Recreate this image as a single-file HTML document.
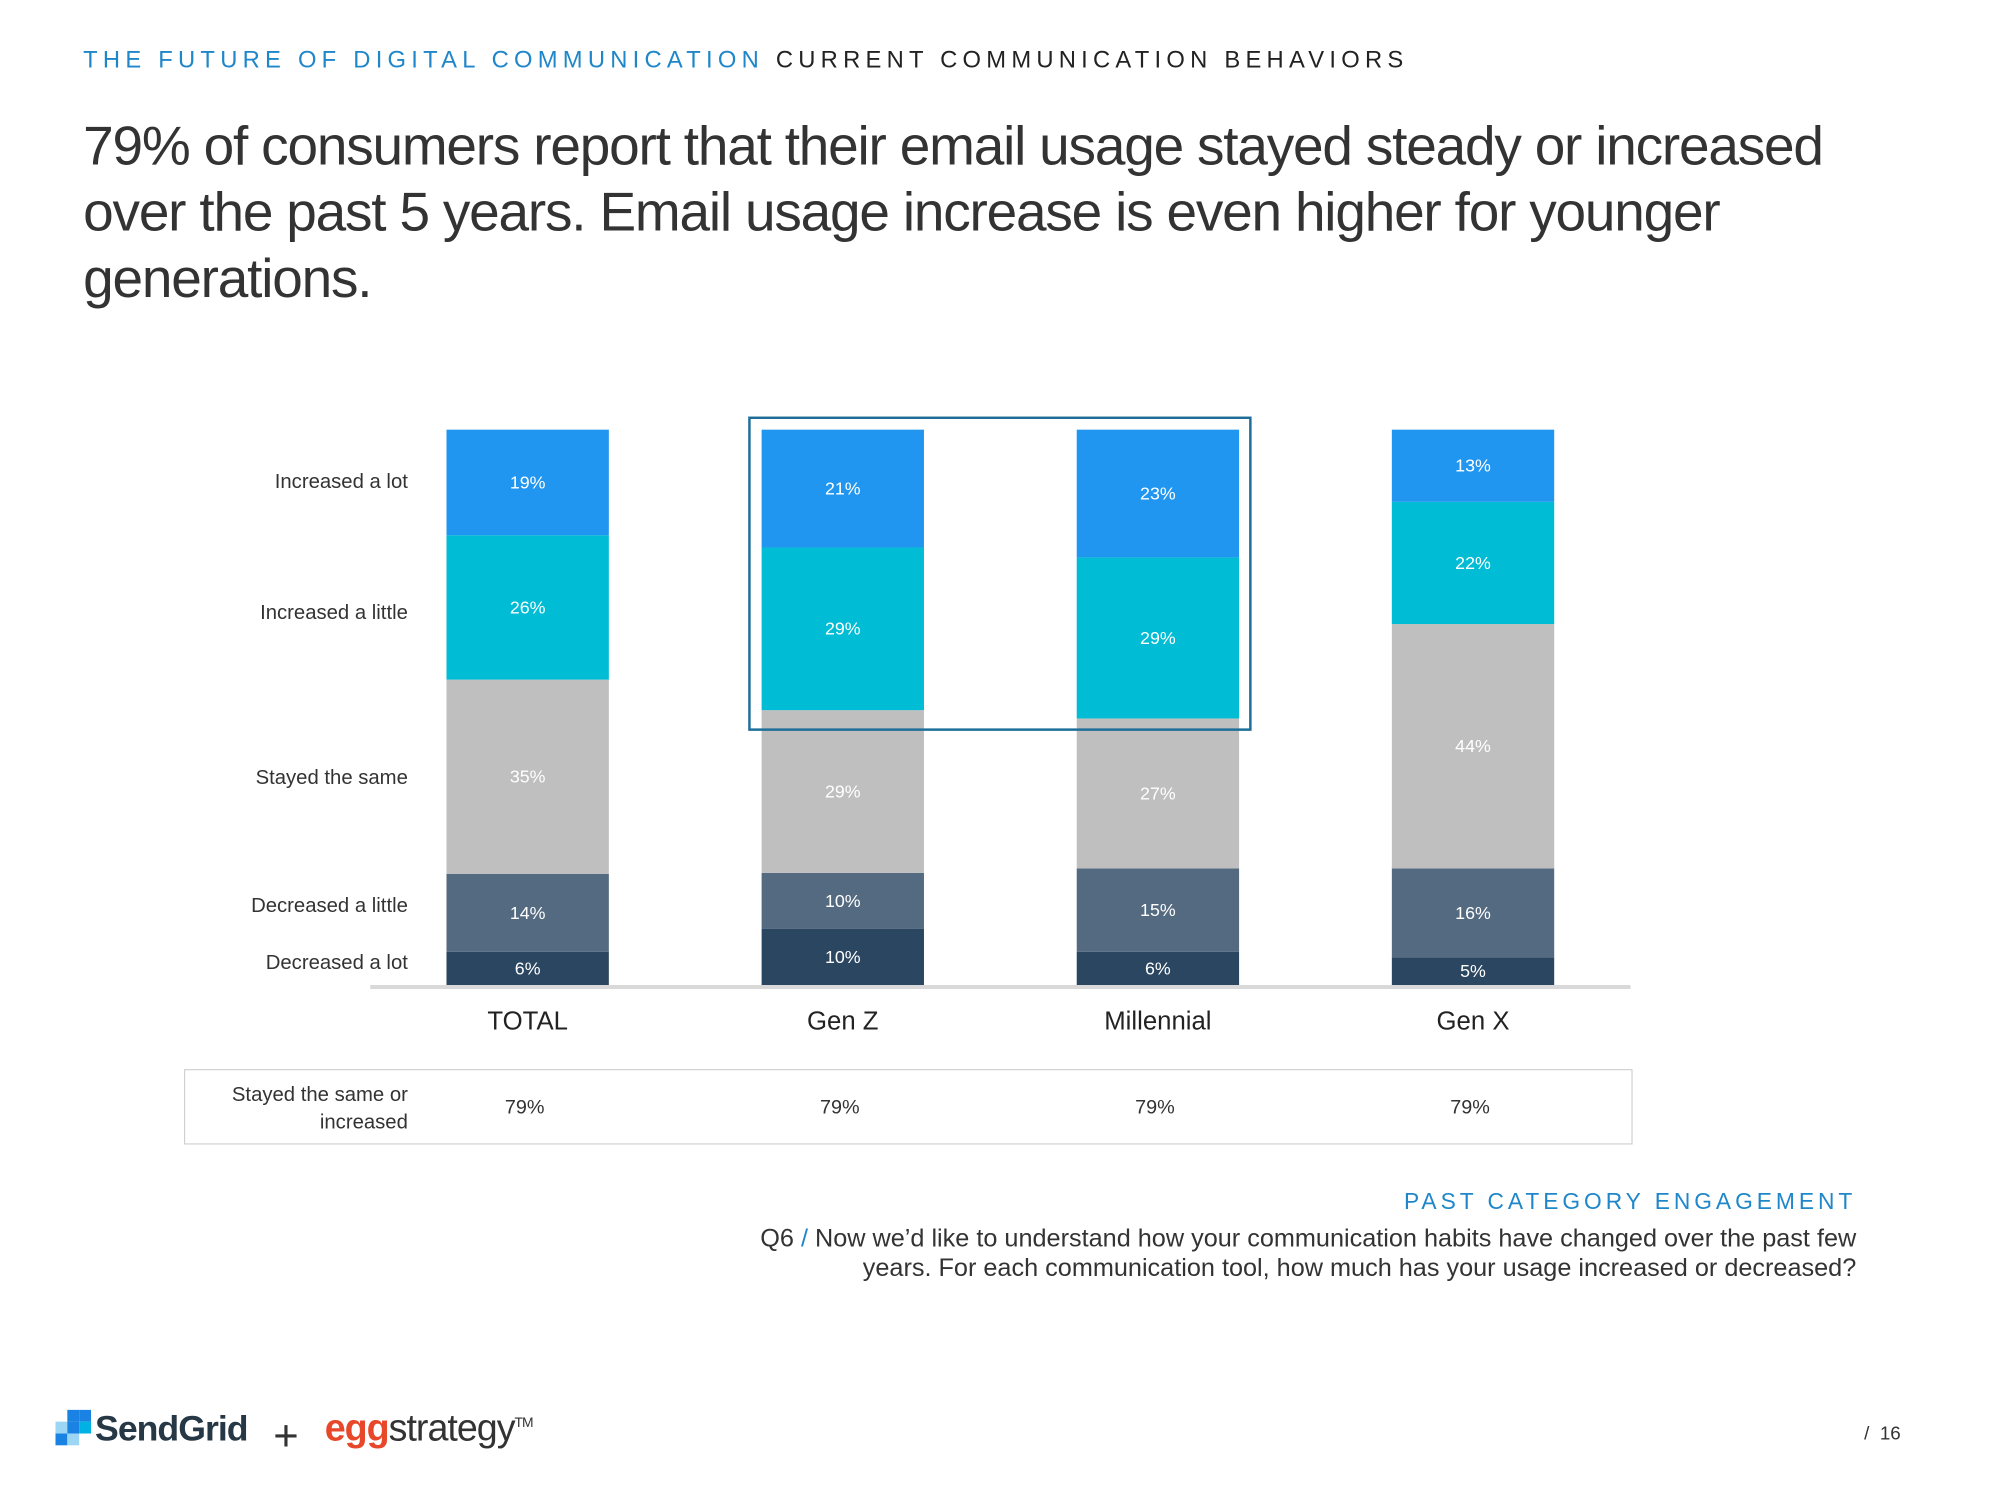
<!DOCTYPE html>
<html><head><meta charset="utf-8">
<style>
body{margin:0;width:2000px;height:1500px;background:#fff;position:relative;overflow:hidden;font-family:"Liberation Sans",sans-serif;}
#wrap{position:absolute;left:0;top:0;width:2000px;height:1500px;transform:scale(0.99);transform-origin:0 0;}
.abs{position:absolute;}
#hdr{left:84px;top:47px;font-size:24px;letter-spacing:5.3px;color:#222;white-space:nowrap;}
#hdr span{color:#1f87c9;}
#title{left:84px;top:114px;font-size:55.5px;line-height:67px;color:#333;letter-spacing:-1.2px;width:1800px;}
.rowlab{right:1588px;font-size:20.5px;color:#333;text-align:right;white-space:nowrap;}
#pce{right:125px;top:1200px;font-size:23px;letter-spacing:4px;color:#1f87c9;}
#q6{right:125px;top:1236px;font-size:25.5px;line-height:30px;color:#333;text-align:right;white-space:nowrap;}
</style></head><body>
<div id="wrap">
<div id="hdr" class="abs"><span>THE FUTURE OF DIGITAL COMMUNICATION</span> CURRENT COMMUNICATION BEHAVIORS</div>
<div id="title" class="abs">79% of consumers report that their email usage stayed steady or increased over the past 5 years. Email usage increase is even higher for younger generations.</div>

<div class="abs rowlab" style="top:475px">Increased a lot</div>
<div class="abs rowlab" style="top:607px">Increased a little</div>
<div class="abs rowlab" style="top:774px">Stayed the same</div>
<div class="abs rowlab" style="top:903px">Decreased a little</div>
<div class="abs rowlab" style="top:961px">Decreased a lot</div>

<svg class="abs" style="left:0;top:0" width="2000" height="1500" id="chart"></svg>

<div class="abs" style="left:186px;top:1080px;width:1461px;height:74px;border:1.5px solid #c8c8c8;"></div>
<div class="abs rowlab" style="top:1092px;line-height:28px">Stayed the same or<br>increased</div>

<div id="pce" class="abs">PAST CATEGORY ENGAGEMENT</div>
<div id="q6" class="abs">Q6 <span style="color:#1f87c9">/</span> Now we’d like to understand how your communication habits have changed over the past few<br>years. For each communication tool, how much has your usage increased or decreased?</div>

<div class="abs" style="left:56px;top:1424px;">
<svg width="36" height="36"><rect x="12" y="0" width="12" height="12" fill="#1a82e2"/><rect x="24" y="0" width="12" height="12" fill="#1a82e2"/><rect x="0" y="12" width="12" height="12" fill="#9dd6f5"/><rect x="12" y="12" width="12" height="12" fill="#1a82e2"/><rect x="24" y="12" width="12" height="12" fill="#00b2e3"/><rect x="0" y="24" width="12" height="12" fill="#1a82e2"/><rect x="12" y="24" width="12" height="12" fill="#9dd6f5"/></svg>
</div>
<div class="abs" style="left:96px;top:1422px;font-size:36px;color:#263746;letter-spacing:-1px;font-weight:bold">SendGrid</div>
<div class="abs" style="left:276px;top:1426px;font-size:44px;color:#333;">+</div>
<div class="abs" style="left:328px;top:1422px;font-size:38px;color:#333;letter-spacing:-1px"><b style="color:#e8472a">egg</b>strategy<sup style="font-size:14px">TM</sup></div>
<div class="abs" style="left:1883px;top:1438px;font-size:19px;color:#333;">/ &nbsp;16</div>
</div>

<script>
const categories=["TOTAL","Gen Z","Millennial","Gen X"];
const decLot=[6,10,6,5];
const decLittle=[14,10,15,16];
const stayed=[35,29,27,44];
const incLittle=[26,29,29,22];
const incLot=[19,21,23,13];
const summary=["79%","79%","79%","79%"];
const series=[decLot,decLittle,stayed,incLittle,incLot];
const seriesNames=["decreased-a-lot","decreased-a-little","stayed-the-same","increased-a-little","increased-a-lot"];
const colors=["#2a4660","#546a80","#bfbfbf","#00bcd4","#2196f0"];
const chartSvg=document.getElementById('chart');
const NS="http://www.w3.org/2000/svg";
const X0=451,STEP=318.3,BW=164,PLOT_TOP=434,PLOT_BOTTOM=995;
function xPos(i){return X0+i*STEP;}
function yScale(cum,total){return PLOT_BOTTOM-(PLOT_BOTTOM-PLOT_TOP)*cum/total;}
function mk(tag,attrs){const e=document.createElementNS(NS,tag);for(const k in attrs)e.setAttribute(k,attrs[k]);chartSvg.appendChild(e);return e;}
categories.forEach((c,i)=>{
  let total=0;series.forEach(s=>total+=s[i]);
  let cum=0;
  series.forEach((s,j)=>{
    const y1=yScale(cum,total),y2=yScale(cum+s[i],total);
    const r=mk('rect',{x:xPos(i),y:y2,width:BW,height:y1-y2,fill:colors[j]});
    
    
    const t=mk('text',{x:xPos(i)+BW/2,y:(y1+y2)/2+6,'text-anchor':'middle','font-size':18,fill:'#fff','font-family':'Liberation Sans, sans-serif'});
    t.textContent=s[i]+'%';
    
    
    cum+=s[i];
  });
  const cl=mk('text',{x:xPos(i)+BW/2,y:1040,'text-anchor':'middle','font-size':26,fill:'#222','font-family':'Liberation Sans, sans-serif'});
  cl.textContent=c;
  
  
  const sl=mk('text',{x:xPos(i)+BW/2-3,y:1125,'text-anchor':'middle','font-size':20,fill:'#333','font-family':'Liberation Sans, sans-serif'});
  sl.textContent=summary[i];
  
  
});
const base=mk('line',{x1:374,x2:1647,y1:997,y2:997,stroke:'#d9d9d9','stroke-width':4});


const hl=mk('rect',{x:757,y:422,width:506,height:315,fill:'none',stroke:'#1f6e99','stroke-width':2.5});


</script>
</body></html>
